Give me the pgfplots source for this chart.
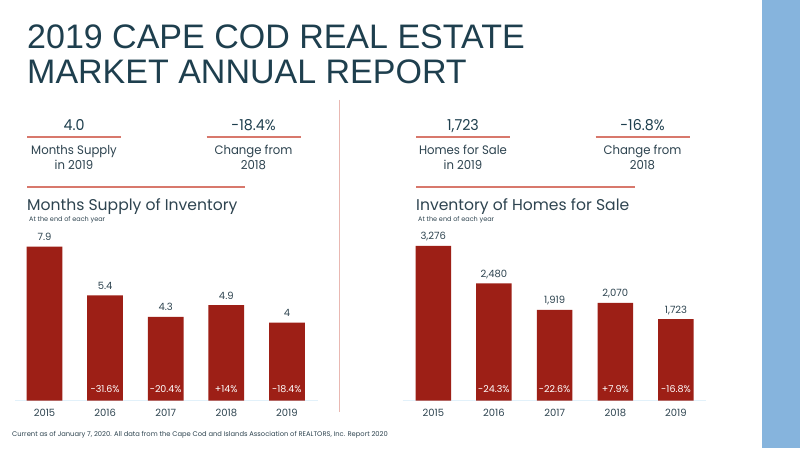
\documentclass[border=0pt]{standalone}
\usepackage{pgfplots}
\pgfplotsset{compat=1.18}
\usepackage{fontspec}
\setmainfont{Poppins}
\newfontfamily\titlefont{Liberation Sans}
\newfontfamily\kpifont[FakeStretch=0.95]{Poppins}
\definecolor{barred}{HTML}{9D1F16}
\definecolor{stripblue}{HTML}{86B4DD}
\definecolor{titlecol}{HTML}{1E3F4E}
\definecolor{textcol}{HTML}{2E4450}
\definecolor{uline}{HTML}{D8786C}
\definecolor{divider}{HTML}{E9B8B2}
\definecolor{baseblue}{HTML}{E2F1FA}
\newcommand{\kpi}[4]{%
  \node[anchor=base, inner sep=0, font=\kpifont\fontsize{15}{15}\selectfont, text=titlecol] at (#1,448-130.5) {#2};
  \draw[uline, line width=1.3pt] (#1-47,448-137) -- (#1+47,448-137);
  \node[anchor=base, inner sep=0, font=\kpifont\fontsize{12.3}{12.3}\selectfont, text=textcol] at (#1,448-154.5) {#3};
  \node[anchor=base, inner sep=0, font=\kpifont\fontsize{12.3}{12.3}\selectfont, text=textcol] at (#1,448-169.5) {#4};
}
\pgfplotsset{
  mybars/.style={
    scale only axis, anchor=south west,
    width=303pt, height=175pt, ymin=0,
    hide y axis, axis x line*=bottom,
    x axis line style={draw=baseblue, line width=1.3pt, -},
    xtick={0,1,2,3,4}, xticklabels={2015,2016,2017,2018,2019},
    major tick length=0pt,
    xticklabel style={font=\fontsize{10}{10}\selectfont, text=textcol, anchor=base, yshift=-16pt},
    clip=false,
  },
  valnodes/.style={nodes near coords, point meta=explicit symbolic,
    every node near coord/.append style={font=\fontsize{10}{10}\selectfont, text=textcol, anchor=base, yshift=6pt}},
  pctnodes/.style={draw=none, mark=none, nodes near coords, point meta=explicit symbolic,
    every node near coord/.append style={font=\fontsize{9.5}{9.5}\selectfont, text=white, anchor=center}},
}
\begin{document}
\begin{tikzpicture}[x=1pt,y=1pt]
\useasboundingbox (0,0) rectangle (800,448);
\fill[white] (0,0) rectangle (800,448);
\fill[stripblue] (762,0) rectangle (800,448);
\node[anchor=base west, inner sep=0, font=\titlefont\fontsize{34}{34}\selectfont, text=titlecol] at (27,448-48.5) {2019 CAPE COD REAL ESTATE};
\node[anchor=base west, inner sep=0, font=\titlefont\fontsize{34}{34}\selectfont, text=titlecol] at (27,448-83.5) {MARKET ANNUAL REPORT};
\draw[divider, line width=1pt] (339.5,448-100) -- (339.5,448-412);
\kpi{74}{4.0}{Months Supply}{in 2019}
\kpi{253.5}{-18.4\%}{Change from}{2018}
\kpi{463}{1,723}{Homes for Sale}{in 2019}
\kpi{642.5}{-16.8\%}{Change from}{2018}
\draw[uline, line width=1.3pt] (27,448-187) -- (245,448-187);
\draw[uline, line width=1.3pt] (416,448-187) -- (635,448-187);
\node[anchor=base west, inner sep=0, font=\fontsize{15.6}{15.6}\selectfont, text=textcol] at (27,448-210) {Months Supply of Inventory};
\node[anchor=base west, inner sep=0, font=\fontsize{6.5}{6.5}\selectfont, text=textcol] at (29,448-221) {At the end of each year};
\node[anchor=base west, inner sep=0, font=\fontsize{15.6}{15.6}\selectfont, text=textcol] at (416,448-210) {Inventory of Homes for Sale};
\node[anchor=base west, inner sep=0, font=\fontsize{6.5}{6.5}\selectfont, text=textcol] at (418,448-221) {At the end of each year};
\node[anchor=west, inner sep=0, font=\fontsize{6.75}{6.75}\selectfont, text=textcol] at (12,448-434.5) {Current as of January 7, 2020. All data from the Cape Cod and Islands Association of REALTORS, Inc. Report 2020};

\begin{axis}[mybars, at={(15pt,47.3pt)}, xmin=-0.487, xmax=4.513, ymax=8.974]
\addplot[ybar, bar width=0.59, fill=barred, draw=none, valnodes] coordinates {
  (0,7.9)[7.9] (1,5.4)[5.4] (2,4.3)[4.3] (3,4.9)[4.9] (4,4.0)[4]};
\addplot[pctnodes] coordinates {
  (1,0.6)[-31.6\%] (2,0.6)[-20.4\%] (3,0.6)[+14\%] (4,0.6)[-18.4\%]};
\end{axis}

\begin{axis}[mybars, at={(402.7pt,47.3pt)}, xmin=-0.504, xmax=4.49, ymax=3700]
\addplot[ybar, bar width=0.585, fill=barred, draw=none, valnodes] coordinates {
  (0,3276)[3,276] (1,2480)[2,480] (2,1919)[1,919] (3,2070)[2,070] (4,1723)[1,723]};
\addplot[pctnodes] coordinates {
  (1,247)[-24.3\%] (2,247)[-22.6\%] (3,247)[+7.9\%] (4,247)[-16.8\%]};
\end{axis}
\end{tikzpicture}
\end{document}
